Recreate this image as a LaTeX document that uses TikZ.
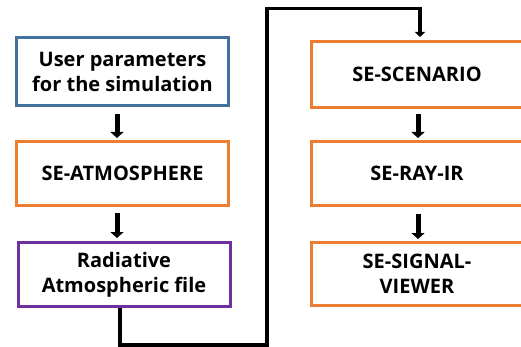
\documentclass[tikz,border=0pt]{standalone}
\usepackage{fontspec}
\setmainfont{Open Sans}
\usetikzlibrary{arrows.meta}
\definecolor{bblue}{RGB}{65,113,156}
\definecolor{borange}{RGB}{237,125,49}
\definecolor{bpurple}{RGB}{112,48,160}
\tikzset{
  box/.style={draw, line width=3pt, minimum width=212pt, inner sep=0pt, align=center,
    font=\fontsize{20}{25}\selectfont\bfseries, text=black},
  blk/.style={line width=5pt, -{Triangle[width=13pt,length=6pt]}},
  conn/.style={line width=3.5pt, -{Triangle[width=10pt,length=5pt]}}
}
\begin{document}
\begin{tikzpicture}[x=1pt,y=-1pt]
\useasboundingbox (0,0) rectangle (521,347);
\node[box, draw=bblue, minimum height=68pt] (u) at (122.5,71.5) {User parameters\\for the simulation};
\node[box, draw=borange, minimum height=64pt] (a) at (122.5,173.5) {SE-ATMOSPHERE};
\node[box, draw=bpurple, minimum height=64pt] (r) at (124,274.5) {Radiative\\Atmospheric file};
\node[box, draw=borange, minimum height=66pt] (s) at (417,74.5) {SE-SCENARIO};
\node[box, draw=borange, minimum height=64pt] (ray) at (417,173.5) {SE-RAY-IR};
\node[box, draw=borange, minimum height=63pt] (sig) at (417,274) {SE-SIGNAL-\\VIEWER};
\draw[blk] ([xshift=-5.5pt,yshift=-7pt]u.south) -- ([xshift=-5.5pt,yshift=2pt]a.north);
\draw[blk] ([xshift=-5.5pt,yshift=-6pt]a.south) -- ([xshift=-7pt,yshift=3pt]r.north);
\draw[blk] ([xshift=1pt,yshift=-5pt]s.south) -- ([xshift=1pt,yshift=2pt]ray.north);
\draw[blk] ([xshift=1pt,yshift=-7pt]ray.south) -- ([xshift=1pt,yshift=2pt]sig.north);
\coordinate (c1) at (120,345);
\coordinate (c2) at (267,345);
\coordinate (c3) at (267,8.5);
\coordinate (c4) at (420,8.5);
\draw[conn] (r.south -| c1) -- (c1) -- (c2) -- (c3) -- (c4) -- ([yshift=3pt]c4 |- s.north);
\end{tikzpicture}
\end{document}
